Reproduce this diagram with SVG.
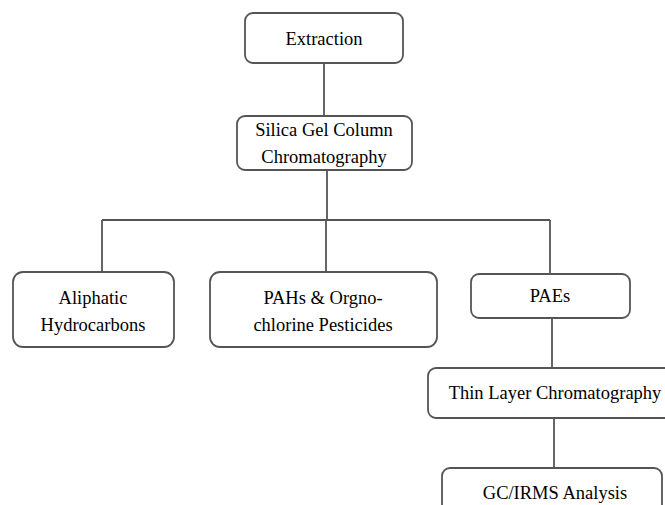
<svg xmlns="http://www.w3.org/2000/svg" width="665" height="505" viewBox="0 0 665 505">
<style>
.box{fill:#fff;stroke:#555;stroke-width:1.8}
.t{font-family:"Liberation Serif","Times New Roman",serif;font-size:18.5px;fill:#000;text-anchor:middle}
.c{stroke:#555;stroke-width:1.8;fill:none}
</style>
<rect width="665" height="505" fill="#fff"/>
<g id="connectors">
<path class="c" d="M324 63V116"/>
<path class="c" d="M327 170V220"/>
<path class="c" d="M102 220H550"/>
<path class="c" d="M102 220V272"/>
<path class="c" d="M326 220V272"/>
<path class="c" d="M550 220V274"/>
<path class="c" d="M552 318V368"/>
<path class="c" d="M554 418V468"/>
</g>
<g id="extraction"><rect class="box" x="245" y="13" width="158" height="50" rx="8"/><text class="t" x="324" y="45">Extraction</text></g>
<g id="silica"><rect class="box" x="237" y="116" width="175" height="54" rx="8"/><text class="t" x="324" y="136">Silica Gel Column</text><text class="t" x="324" y="163">Chromatography</text></g>
<g id="aliphatic"><rect class="box" x="13" y="272" width="161" height="75" rx="10"/><text class="t" x="93" y="304">Aliphatic</text><text class="t" x="93" y="331">Hydrocarbons</text></g>
<g id="pahs"><rect class="box" x="210" y="272" width="227" height="75" rx="10"/><text class="t" x="323" y="304">PAHs &amp; Orgno-</text><text class="t" x="323" y="331">chlorine Pesticides</text></g>
<g id="paes"><rect class="box" x="471" y="274" width="159" height="44" rx="8"/><text class="t" x="550" y="302">PAEs</text></g>
<g id="tlc"><rect class="box" x="428" y="368" width="250" height="50" rx="8"/><text class="t" x="555" y="399">Thin Layer Chromatography</text></g>
<g id="gcirms"><rect class="box" x="442" y="468" width="220" height="50" rx="8"/><text class="t" x="555" y="499">GC/IRMS Analysis</text></g>
</svg>
